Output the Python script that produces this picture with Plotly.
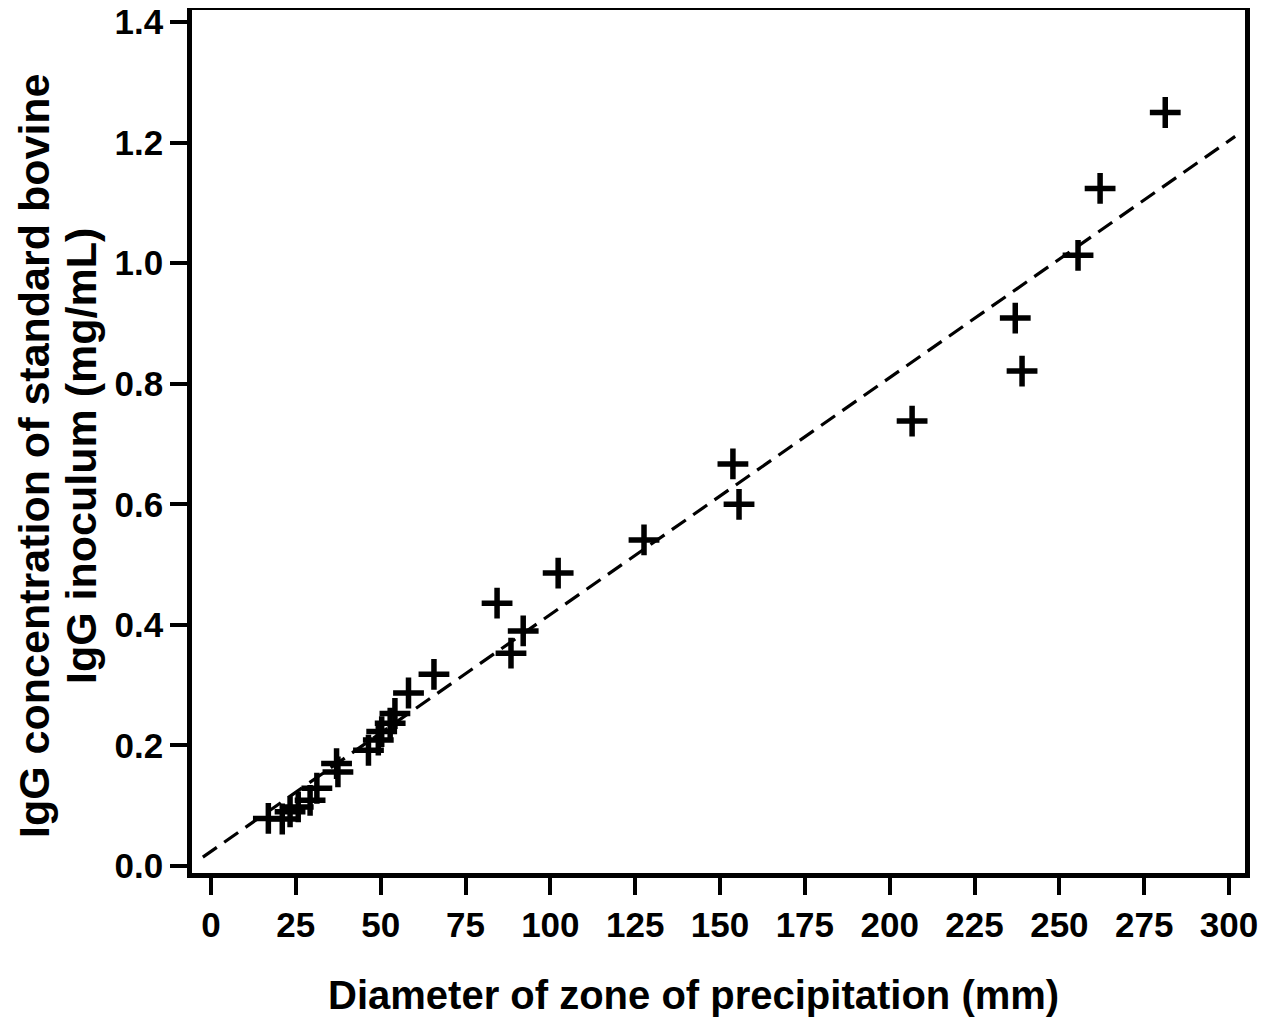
import plotly.graph_objects as go
import numpy as np

# Data
diameter_mm = [16.9, 21.0, 23.3, 25.7, 29.2, 31.2, 37.0, 37.4, 46.4, 49.3, 50.3,
               52.8, 54.2, 58.2, 65.7, 84.3, 88.4, 92.0, 102.3, 127.6, 153.8,
               155.6, 206.6, 237.0, 239.0, 255.5, 262.0, 281.2]
igg_mg_ml = [0.079, 0.078, 0.090, 0.098, 0.109, 0.129, 0.170, 0.156, 0.192, 0.209, 0.223,
             0.237, 0.253, 0.287, 0.318, 0.436, 0.353, 0.390, 0.486, 0.541, 0.667,
             0.600, 0.738, 0.909, 0.821, 1.013, 1.124, 1.250]

fit_slope = 0.00393
fit_intercept = 0.0242
fit_x_range = [-2.4, 301.8]

x_ticks = [0, 25, 50, 75, 100, 125, 150, 175, 200, 225, 250, 275, 300]
y_ticks = [0.0, 0.2, 0.4, 0.6, 0.8, 1.0, 1.2, 1.4]

x_title = "Diameter of zone of precipitation (mm)"
y_title_lines = ["IgG concentration of standard bovine", "IgG inoculum (mg/mL)"]

fit_x = np.array(fit_x_range)
fit_y = fit_intercept + fit_slope * fit_x

FONT = "Liberation Sans, Arial, sans-serif"

fig = go.Figure()
fig.add_trace(go.Scatter(x=fit_x, y=fit_y, mode="lines",
                         line=dict(color="black", width=3.2, dash="17px,9px"),
                         showlegend=False, hoverinfo="skip"))
fig.add_trace(go.Scatter(x=diameter_mm, y=igg_mg_ml, mode="markers",
                         marker=dict(symbol="cross-thin", size=22,
                                     line=dict(color="black", width=5.5)),
                         showlegend=False))

axis_common = dict(showline=True, linecolor="black", linewidth=4.5, mirror=True,
                   ticks="outside", ticklen=17, tickwidth=3.5, tickcolor="black",
                   showgrid=False, zeroline=False, ticklabeloverflow="allow",
                   tickfont=dict(family=FONT, size=35, color="black", weight="bold"))

fig.update_xaxes(range=[-5.6, 304.7], tickvals=x_ticks,
                 ticktext=[str(v) for v in x_ticks], **axis_common)
fig.update_yaxes(range=[-0.0116, 1.420], tickvals=y_ticks,
                 ticktext=[f"{v:.1f}" for v in y_ticks], **axis_common)

L, R, T, B = 184, 37, 2, 161
W, H = 1274, 1026
pw, ph = W - L - R, H - T - B

def px_x(fx):
    return (fx - L) / pw

def px_y(fy):
    return (H - B - fy) / ph

annotations = [
    dict(text=x_title, xref="paper", yref="paper", x=px_x(685), y=px_y(987),
         xanchor="center", yanchor="middle", showarrow=False,
         font=dict(family=FONT, size=40, color="black", weight="bold")),
    dict(text=y_title_lines[0], xref="paper", yref="paper", x=px_x(26), y=px_y(448),
         xanchor="center", yanchor="middle", showarrow=False, textangle=-90,
         font=dict(family=FONT, size=43, color="black", weight="bold")),
    dict(text=y_title_lines[1], xref="paper", yref="paper", x=px_x(73), y=px_y(448),
         xanchor="center", yanchor="middle", showarrow=False, textangle=-90,
         font=dict(family=FONT, size=43, color="black", weight="bold")),
]

fig.update_layout(width=W, height=H, plot_bgcolor="white", paper_bgcolor="white",
                  margin=dict(l=L, r=R, t=T, b=B, autoexpand=False),
                  annotations=annotations)

fig.write_html("out.html")
